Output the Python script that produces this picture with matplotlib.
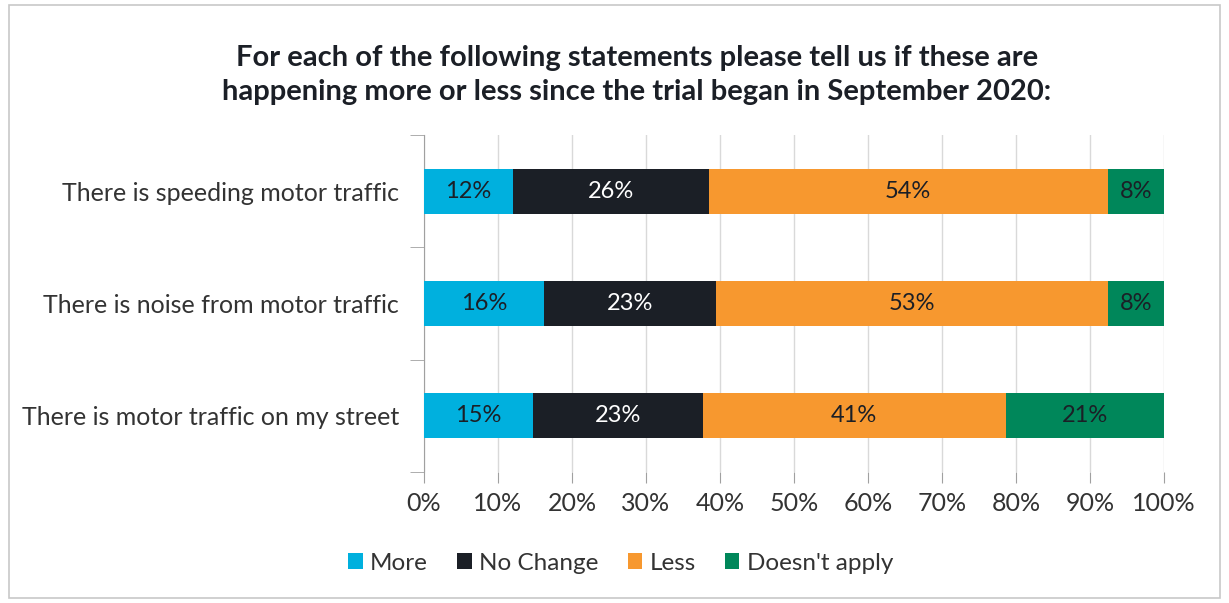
import numpy as np
import matplotlib
matplotlib.use("Agg")
import matplotlib.pyplot as plt
from matplotlib.patches import Rectangle

plt.rcParams['font.family'] = ['Lato', 'DejaVu Sans']

# data
statements = ["There is speeding motor traffic",
              "There is noise from motor traffic",
              "There is motor traffic on my street"]
series = ["More", "No Change", "Less", "Doesn't apply"]
more = [12.0, 16.2, 14.7]
no_change = [26.5, 23.3, 23.0]
less = [53.9, 52.9, 40.9]
doesnt_apply = [7.6, 7.6, 21.4]
colors = ["#00b0de", "#1b1f26", "#f7982f", "#00875a"]
text_colors = ["#1b1f26", "white", "#1b1f26", "#1b1f26"]

fig = plt.figure(figsize=(12.29, 6.03), dpi=100)
ax = fig.add_axes([0.345, 0.217, 0.602, 0.559])

# outer border
fig.patches.append(Rectangle((0.007, 0.008), 0.986, 0.984, transform=fig.transFigure,
                             fill=False, edgecolor="#c8c8c8", lw=1.2))

y = np.arange(len(statements))[::-1]
left = np.zeros(len(statements))
for vals, name, c, tc in zip([more, no_change, less, doesnt_apply], series, colors, text_colors):
    vals = np.array(vals)
    ax.barh(y, vals, left=left, height=0.4, color=c, label=name, zorder=3)
    for yi, l, v in zip(y, left, vals):
        ax.text(l + v / 2, yi, "%d%%" % round(v), ha="center", va="center",
                fontsize=17, color=tc, zorder=4)
    left = left + vals

ax.set_xlim(0, 100)
ax.set_ylim(-0.5, 2.5)
ax.set_xticks(np.arange(0, 101, 10))
ax.set_xticklabels(["%d%%" % v for v in range(0, 101, 10)], fontsize=18, color="#333333")
ax.set_yticks(y)
ax.set_yticklabels(statements, fontsize=18, color="#333333")
ax.set_yticks([-0.5, 0.5, 1.5, 2.5], minor=True)
ax.tick_params(axis="y", which="major", length=0, pad=18)
ax.tick_params(axis="y", which="minor", length=10, color="#a0a0a0")
ax.tick_params(axis="x", length=8, color="#a0a0a0", pad=6)
ax.grid(axis="x", color="#d9d9d9", lw=1, zorder=0)
for s in ["top", "right", "bottom"]:
    ax.spines[s].set_visible(False)
ax.spines["left"].set_color("#a0a0a0")

fig.text(0.518, 0.876, "For each of the following statements please tell us if these are\n"
         "happening more or less since the trial began in September 2020:",
         ha="center", va="center", fontsize=21, fontweight="bold", color="#1b1f26",
         linespacing=1.38)

fig.legend(loc="center", bbox_to_anchor=(0.505, 0.066), ncol=4, frameon=False,
           fontsize=17.5, handlelength=0.6, handleheight=0.6, handletextpad=0.3,
           columnspacing=1.2, labelcolor="#333333")

fig.savefig("out.png", dpi=100)
